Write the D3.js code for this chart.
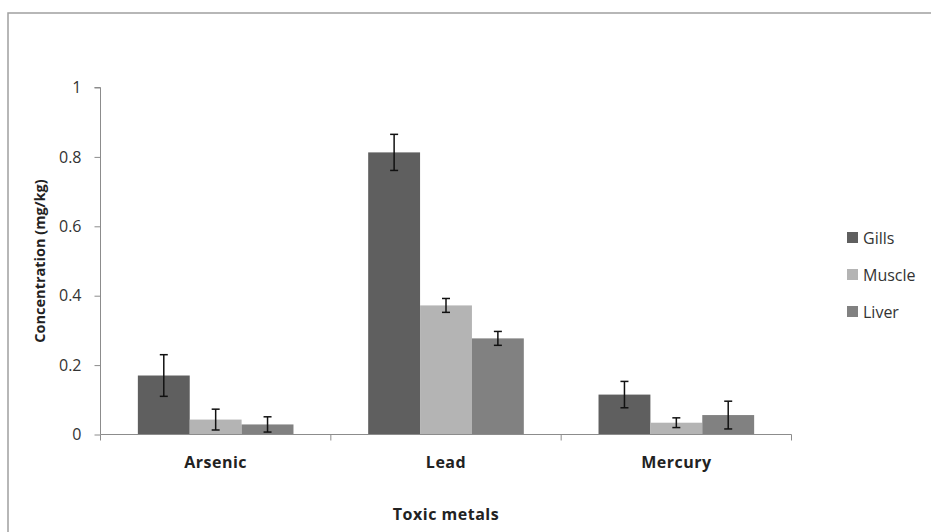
<!DOCTYPE html>
<html>
<head>
<meta charset="utf-8">
<script src="https://cdn.jsdelivr.net/npm/d3@7"></script>
<style>
  body { margin: 0; background: #fff; }
  svg text { font-family: "Open Sans", "Noto Sans", sans-serif; fill: #222; }
  .axis path, .axis line { stroke: #8c8c8c; }
  .axis text { font-size: 16px; fill: #333; }
</style>
</head>
<body>
<svg class="chart" width="931" height="532"></svg>
<script>
const metals = ["Arsenic", "Lead", "Mercury"]
const tissues = ["Gills", "Muscle", "Liver"]
const gills = [0.17, 0.813, 0.115]
const muscle = [0.043, 0.372, 0.034]
const liver = [0.029, 0.277, 0.056]
const gillsErr = [0.06, 0.052, 0.038]
const muscleErr = [0.03, 0.02, 0.014]
const liverErr = [0.022, 0.02, 0.04]
const yTicks = [0, 0.2, 0.4, 0.6, 0.8, 1]
const colors = ["#5f5f5f", "#b4b4b4", "#818181"]

const values = [gills, muscle, liver]
const errors = [gillsErr, muscleErr, liverErr]

const svg = d3.select("svg.chart")

// frame round the whole chart area
svg.append("rect")
    .attr("x", 8).attr("y", 13)
    .attr("width", 940).attr("height", 540)
    .attr("fill", "none")
    .attr("stroke", "#a0a0a0")
    .attr("stroke-width", 1.5)

const x = d3.scaleBand()
    .domain(metals)
    .range([100.5, 791.5])

const x1 = d3.scaleBand()
    .domain(tissues)
    .range([0, x.bandwidth()])
    .paddingOuter(0.72)

const y = d3.scaleLinear()
    .domain([0, 1])
    .range([434.5, 87.5])

const yAxis = svg.append("g")
    .attr("class", "axis")
    .attr("transform", "translate(100.5,0)")
    .call(d3.axisLeft(y).tickValues(yTicks).tickSize(6).tickPadding(13)
        .tickFormat(d => d === 0 || d === 1 ? d3.format("d")(d) : d3.format(".1f")(d)))
yAxis.select(".domain").attr("d", "M-6," + y(1) + "H0V" + y(0))

const cats = svg.selectAll("g.cat")
    .data(metals)
    .enter()
    .append("g")
    .attr("class", "cat")
    .attr("transform", d => "translate(" + x(d) + ",0)")

tissues.forEach((t, k) => {
    cats.append("rect")
        .attr("x", x1(t))
        .attr("width", x1.bandwidth())
        .attr("y", (d, i) => y(values[k][i]))
        .attr("height", (d, i) => y(0) - y(values[k][i]))
        .attr("fill", colors[k])

    const cx = x1(t) + x1.bandwidth() / 2
    cats.append("line")
        .attr("x1", cx).attr("x2", cx)
        .attr("y1", (d, i) => y(values[k][i] + errors[k][i]))
        .attr("y2", (d, i) => y(values[k][i] - errors[k][i]))
        .attr("stroke", "#111").attr("stroke-width", 1.5)
    ;[1, -1].forEach(s => {
        cats.append("line")
            .attr("x1", cx - 4).attr("x2", cx + 4)
            .attr("y1", (d, i) => y(values[k][i] + s * errors[k][i]))
            .attr("y2", (d, i) => y(values[k][i] + s * errors[k][i]))
            .attr("stroke", "#111").attr("stroke-width", 1.5)
    })
})

const xAxis = svg.append("g")
    .attr("class", "axis")
    .attr("transform", "translate(0," + y(0) + ")")
    .call(d3.axisBottom(x).tickSize(0).tickPadding(22))
xAxis.select(".domain").attr("d", "M100.5,0H791.5")
xAxis.selectAll("text")
    .attr("font-weight", "bold")
    .attr("letter-spacing", "0.5px")
    .style("fill", "#222")
xAxis.selectAll(".sep")
    .data([0, 1, 2, 3])
    .enter()
    .append("line")
    .attr("class", "sep")
    .attr("x1", i => i < 3 ? x(metals[i]) : x(metals[2]) + x.bandwidth())
    .attr("x2", i => i < 3 ? x(metals[i]) : x(metals[2]) + x.bandwidth())
    .attr("y1", 0).attr("y2", 6)

svg.append("text")
    .attr("x", x(metals[1]) + x.bandwidth() / 2)
    .attr("y", 520)
    .attr("text-anchor", "middle")
    .attr("font-weight", "bold")
    .attr("letter-spacing", "0.5px")
    .attr("font-size", "16px")
    .text("Toxic metals")

svg.append("text")
    .attr("transform", "translate(45," + y(0.5) + ") rotate(-90)")
    .attr("text-anchor", "middle")
    .attr("font-weight", "bold")
    .attr("font-size", "14.5px")
    .text("Concentration (mg/kg)")

const legend = svg.selectAll("g.legend")
    .data(tissues)
    .enter()
    .append("g")
    .attr("class", "legend")
    .attr("transform", (d, i) => "translate(847," + (232 + i * 37) + ")")
legend.append("rect")
    .attr("width", 11).attr("height", 11)
    .attr("fill", (d, i) => colors[i])
legend.append("text")
    .attr("x", 16).attr("y", 11.5)
    .attr("font-size", "16px")
    .style("fill", "#333")
    .text(d => d)
</script>
</body>
</html>
